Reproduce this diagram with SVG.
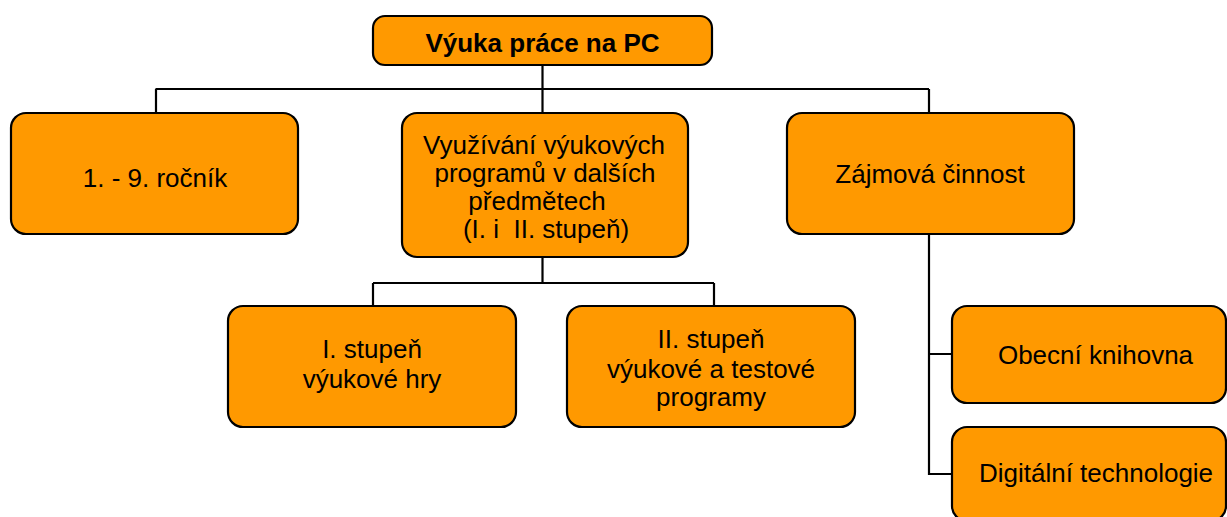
<svg xmlns="http://www.w3.org/2000/svg" width="1227" height="517" viewBox="0 0 1227 517">
<style>
.box{fill:#FF9900;stroke:#000;stroke-width:2.2}
.t{font-family:"Liberation Sans",Arial,sans-serif;font-size:26px;fill:#000;text-anchor:middle}
.b{font-weight:bold}
.c{fill:none;stroke:#000;stroke-width:2.2}
</style>
<rect width="1227" height="517" fill="#fff"/>
<g id="connectors">
<path class="c" d="M542.5,65V89M155.5,89H929M156,89V113M542.5,89V113M929,89V113M542.5,257V283M373,283H714M373,283V306M714,283V306M929,234V474H952M929,354H952"/>
</g>
<g id="n0"><rect class="box" x="373" y="16" width="339" height="49" rx="12"/><text class="t b" x="542.5" y="52">Výuka práce na PC</text></g>
<g id="n1"><rect class="box" x="11" y="113" width="287" height="121" rx="15"/><text class="t" x="155" y="187">1. - 9. ročník</text></g>
<g id="n2"><rect class="box" x="402" y="113" width="286" height="144" rx="15"/>
<text class="t" x="544" y="154">Využívání výukových</text>
<text class="t" x="545" y="182">programů v dalších</text>
<text class="t" x="537" y="210">předmětech</text>
<text class="t" x="546" y="238">(I. i&#160; II. stupeň)</text></g>
<g id="n3"><rect class="box" x="787" y="113" width="287" height="121" rx="15"/><text class="t" x="930" y="183">Zájmová činnost</text></g>
<g id="n4"><rect class="box" x="228" y="306" width="288" height="121" rx="15"/>
<text class="t" x="372" y="358">I. stupeň</text>
<text class="t" x="372" y="388">výukové hry</text></g>
<g id="n5"><rect class="box" x="567" y="306" width="288" height="121" rx="15"/>
<text class="t" x="711" y="348">II. stupeň</text>
<text class="t" x="711" y="378">výukové a testové</text>
<text class="t" x="711" y="406">programy</text></g>
<g id="n6"><rect class="box" x="952" y="306" width="274" height="97" rx="15"/><text class="t" x="1095.5" y="364">Obecní knihovna</text></g>
<g id="n7"><rect class="box" x="952" y="427" width="274" height="94" rx="15"/><text class="t" x="1096" y="482">Digitální technologie</text></g>
</svg>
